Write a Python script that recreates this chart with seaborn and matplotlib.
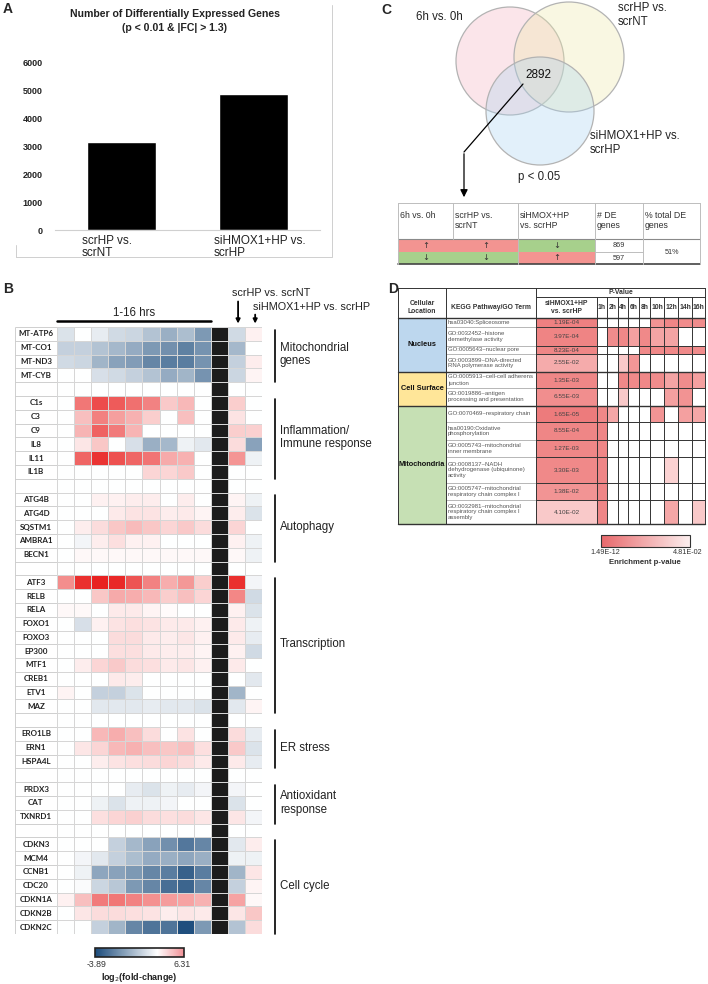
import numpy as np
import pandas as pd
import matplotlib
matplotlib.use("Agg")
import matplotlib.pyplot as plt
import seaborn as sns
from matplotlib.colors import LinearSegmentedColormap, Normalize, LogNorm, to_rgba
from matplotlib.patches import Circle, Rectangle
from matplotlib.cm import ScalarMappable

# ---------------- data ----------------
# panel A
de_categories = ["scrHP vs.\nscrNT", "siHMOX1+HP vs.\nscrHP"]
de_counts = [3150, 4900]

# panel B (9 time points 1-16 h, scrHP vs scrNT, siHMOX1+HP vs scrHP); "" = spacer row
genes = ["MT-ATP6", "MT-CO1", "MT-ND3", "MT-CYB", "",
         "C1s", "C3", "C9", "IL8", "IL11", "IL1B", "",
         "ATG4B", "ATG4D", "SQSTM1", "AMBRA1", "BECN1", "",
         "ATF3", "RELB", "RELA", "FOXO1", "FOXO3", "EP300", "MTF1", "CREB1", "ETV1", "MAZ", "",
         "ERO1LB", "ERN1", "HSPA4L", "",
         "PRDX3", "CAT", "TXNRD1", "",
         "CDKN3", "MCM4", "CCNB1", "CDC20", "CDKN1A", "CDKN2B", "CDKN2C"]
logfc = [
    [-0.6, 0.0, -0.4, -0.8, -0.9, -1.3, -1.7, -1.4, -2.2, -0.8, 0.4],
    [-1.0, -1.0, -1.3, -1.5, -1.8, -2.2, -2.4, -2.7, -2.3, -1.5, 0.0],
    [-0.8, -0.9, -1.6, -2.0, -2.1, -2.6, -2.8, -2.8, -2.3, -1.0, 0.5],
    [0.0, 0.0, -0.7, -0.8, -1.0, -1.3, -1.8, -1.6, -2.3, -0.9, 0.3],
    [0.0] * 11,
    [0.0, 3.8, 5.0, 4.6, 4.0, 3.5, 1.5, 2.0, 0.0, 1.4, 0.0],
    [0.0, 1.8, 3.6, 2.7, 2.2, 1.4, 0.0, 1.8, 0.0, 0.8, 0.0],
    [0.0, 2.1, 4.4, 3.7, 2.1, 0.0, 0.0, 0.0, 0.0, 1.4, 1.3],
    [0.0, 0.7, 1.6, 0.0, -0.7, -1.7, -1.5, -0.3, -0.5, 1.0, -2.0],
    [0.0, 4.3, 5.7, 4.9, 4.3, 3.9, 2.4, 2.2, 0.0, 3.0, -0.3],
    [0.0, 0.0, 0.0, 0.0, 0.0, 1.2, 1.2, 1.5, 0.0, 0.0, 0.0],
    [0.0] * 11,
    [0.0, 0.0, 0.4, 0.4, 0.5, 0.5, 0.0, 0.5, 0.0, 0.3, -0.3],
    [0.0, 0.0, 0.0, 0.6, 0.8, 0.8, 0.5, 0.6, 0.3, 0.5, -0.6],
    [0.0, 0.5, 1.0, 1.6, 1.9, 1.6, 1.2, 1.5, 1.0, 1.2, 0.0],
    [0.0, -0.2, 0.5, 0.9, 0.4, 0.4, 0.0, 0.0, 0.0, 0.4, -0.3],
    [0.0, 0.2, 0.2, 0.2, 0.2, 0.2, 0.2, 0.2, 0.2, 0.2, -0.3],
    [0.0] * 11,
    [3.2, 5.8, 6.2, 6.0, 4.8, 3.5, 2.3, 2.9, 1.4, 5.8, -0.2],
    [0.0, 0.0, 1.6, 2.4, 2.3, 2.0, 1.4, 1.8, 1.2, 3.4, -0.8],
    [0.2, 0.2, 0.0, 0.6, 0.6, 0.3, 0.1, 0.0, 0.0, 0.4, -0.6],
    [0.0, -0.7, 0.4, 0.8, 0.9, 0.8, 0.6, 0.6, 0.4, 0.6, -0.3],
    [0.0, 0.0, 0.0, 1.0, 1.0, 0.6, 0.5, 0.7, 0.4, 0.6, -0.4],
    [0.0, 0.0, 0.0, 0.9, 0.9, 0.6, 0.5, 0.5, 0.3, 0.4, -0.8],
    [0.0, 0.5, 1.2, 1.5, 1.0, 0.9, 0.6, 0.7, 0.4, 0.6, 0.0],
    [0.0, 0.0, 0.0, 0.6, 0.5, 0.0, 0.0, 0.0, 0.0, 0.0, -0.5],
    [0.3, 0.0, -1.0, -1.0, -0.6, 0.0, 0.0, 0.0, 0.0, -1.6, 0.0],
    [0.0, 0.0, -0.5, -0.5, -0.5, -0.4, -0.5, -0.5, -0.6, -0.5, 0.3],
    [0.0] * 11,
    [0.0, 0.0, 2.0, 2.3, 1.8, 1.0, 0.0, 0.8, 0.0, 1.0, -0.4],
    [0.0, 0.7, 1.2, 2.0, 2.2, 1.8, 1.6, 1.8, 0.9, 1.5, -0.6],
    [0.0, 0.0, 0.5, 0.8, 0.9, 1.0, 1.2, 1.0, 0.6, 0.6, -0.4],
    [0.0] * 11,
    [0.0, 0.0, 0.0, 0.0, -0.4, -0.6, -0.3, -0.4, -0.2, -0.2, 0.0],
    [0.0, 0.0, -0.3, -0.6, -0.3, -0.3, -0.2, 0.0, 0.0, -0.6, 0.0],
    [0.0, 0.0, 0.9, 1.2, 1.3, 1.0, 0.9, 1.0, 0.7, 0.7, -0.2],
    [0.0] * 11,
    [0.0, 0.0, 0.0, -1.0, -1.5, -2.0, -2.4, -2.9, -2.6, -0.5, 0.5],
    [0.0, -0.2, -0.5, -1.0, -1.4, -1.8, -1.7, -1.9, -1.7, -0.3, -0.3],
    [0.0, -0.3, -1.9, -2.0, -2.2, -2.6, -2.8, -3.4, -2.8, -1.6, 0.7],
    [0.0, -0.1, -0.9, -1.2, -2.2, -2.6, -3.1, -3.3, -2.6, -1.0, 0.3],
    [0.4, 1.8, 3.7, 3.8, 3.5, 3.1, 2.8, 2.6, 2.2, 2.6, 0.2],
    [0.0, 0.7, 1.0, 1.0, 0.9, 0.8, 0.5, 0.7, 0.6, 0.7, 1.6],
    [0.0, 0.0, -1.0, -1.6, -2.6, -3.0, -3.0, -3.8, -2.2, -1.3, 1.0],
]
fc_min, fc_max = -3.89, 6.31
group_names = ["Mitochondrial\ngenes", "Inflammation/\nImmune response", "Autophagy",
               "Transcription", "ER stress", "Antioxidant\nresponse", "Cell cycle"]
group_sizes = [4, 6, 5, 10, 3, 3, 7]

# panel C
venn_labels = ["6h vs. 0h", "scrHP vs.\nscrNT", "siHMOX1+HP vs.\nscrHP"]
venn_overlap = 2892
c_headers = ["6h vs. 0h", "scrHP vs.\nscrNT", "siHMOX+HP\nvs. scrHP", "# DE\ngenes", "% total DE\ngenes"]
c_dirs = [["↑", "↑", "↓"], ["↓", "↓", "↑"]]
c_counts = [869, 597]
c_pct = "51%"

# panel D
d_locations = ["Nucleus", "Cell Surface", "Mitochondria"]
d_loc_sizes = [4, 2, 6]
d_terms = ["hsa03040:Spliceosome",
           "GO:0032452~histone\ndemethylase activity",
           "GO:0005643~nuclear pore",
           "GO:0003899~DNA-directed\nRNA polymerase activity",
           "GO:0005913~cell-cell adherens\njunction",
           "GO:0019886~antigen\nprocessing and presentation",
           "GO:0070469~respiratory chain",
           "hsa00190:Oxidative\nphosphorylation",
           "GO:0005743~mitochondrial\ninner membrane",
           "GO:0008137~NADH\ndehydrogenase (ubiquinone)\nactivity",
           "GO:0005747~mitochondrial\nrespiratory chain complex I",
           "GO:0032981~mitochondrial\nrespiratory chain complex I\nassembly"]
d_si_p = [1.19e-4, 3.97e-4, 8.23e-4, 2.55e-2, 1.35e-3, 6.55e-3,
          1.65e-5, 8.55e-4, 1.27e-3, 3.30e-3, 1.38e-2, 4.10e-2]
d_hours = ["1h", "2h", "4h", "6h", "8h", "10h", "12h", "14h", "16h"]
nan = np.nan
d_hour_p = [
    [nan, nan, nan, nan, nan, 1.4e-2, 1e-3, 5e-3, 5e-3],
    [nan, 5e-3, 2e-3, 2.0e-2, 3e-3, 2.2e-2, 2.2e-2, nan, nan],
    [nan, nan, nan, nan, 3e-3, 2e-3, 2e-3, 4e-3, 5e-3],
    [nan, nan, 4e-2, 1.5e-2, nan, nan, nan, nan, nan],
    [nan, nan, 3e-3, 3e-3, 2e-3, 5e-3, 2.2e-2, 5e-3, 2.0e-2],
    [nan, nan, 4e-2, nan, nan, nan, 2e-2, 1.2e-2, nan],
    [2e-3, 2.3e-2, nan, nan, nan, 1.3e-2, nan, 2.0e-2, 2.3e-2],
    [1e-3, nan, nan, nan, nan, nan, nan, nan, nan],
    [1e-3, nan, nan, nan, nan, nan, nan, nan, nan],
    [1e-3, nan, nan, nan, nan, nan, 4.6e-2, nan, nan],
    [1e-3, nan, nan, nan, nan, nan, nan, nan, nan],
    [1e-3, nan, nan, nan, nan, nan, 2.3e-2, nan, 4.0e-2],
]
p_min, p_max = 1.49e-12, 4.81e-2

# ---------------- style ----------------
sns.set_theme(style="white")
plt.rcParams["font.family"] = ["Liberation Sans", "DejaVu Sans"]

W, H = 708, 984
fig = plt.figure(figsize=(W / 100, H / 100), dpi=100)


def px_axes(x0, y0, x1, y1, **kw):
    return fig.add_axes([x0 / W, 1 - y1 / H, (x1 - x0) / W, (y1 - y0) / H], **kw)


# overlay in pixel coordinates for tables / venn / annotations
ov = px_axes(0, 0, W, H, zorder=5)
ov.set_xlim(0, W)
ov.set_ylim(H, 0)
ov.axis("off")
ov.patch.set_alpha(0)

for lab, (x, y) in zip("ABCD", [(3, 2), (3, 282), (381, 3), (388, 282)]):
    ov.text(x, y, lab, fontsize=10, fontweight="bold", va="top", ha="left")

# ---------------- panel A ----------------
axA = px_axes(55, 63, 320, 230)
sns.barplot(x=list(range(len(de_counts))), y=de_counts, ax=axA, color="black",
            width=0.52, saturation=1, errorbar=None)
axA.set_xlim(-0.5, 1.5)
axA.set_ylim(0, 6000)
axA.set_yticks(range(0, 6001, 1000))
axA.set_yticklabels([str(v) for v in range(0, 6001, 1000)], fontsize=6.5, fontweight="bold", color="#222")
axA.tick_params(axis="y", length=0, pad=9)
axA.set_xticks([])
for s in ["top", "right", "left"]:
    axA.spines[s].set_visible(False)
axA.spines["bottom"].set_color("#d0d0d0")
axA.spines["bottom"].set_linewidth(0.8)
for i, lab in enumerate(de_categories):
    axA.text(i - 0.30, -170, lab, ha="left", va="top", fontsize=8.5, color="#222",
             linespacing=1.05, clip_on=False)
ov.text(175, 9, "Number of Differentially Expressed Genes\n(p < 0.01 & |FC| > 1.3)",
        ha="center", va="top", fontsize=7.6, fontweight="bold", linespacing=1.45, color="#222")
ov.plot([16, 332, 332], [257, 257, 5], color="#cfcfcf", lw=0.7)
ov.plot([16, 16], [245, 257], color="#cfcfcf", lw=0.7)

# ---------------- panel B ----------------
n_rows = len(genes)
mat = np.array(logfc, dtype=float)
mat = np.insert(mat, 9, np.nan, axis=1)  # black separator column
df_b = pd.DataFrame(mat, index=genes)
zero_pos = -fc_min / (fc_max - fc_min)
cmap_b = LinearSegmentedColormap.from_list(
    "fc", [(0, "#1b4b7b"), (zero_pos, "#ffffff"), (1, "#e81f1e")])

axB = px_axes(57, 327, 262, 934)
axB.set_facecolor("#1c1c1c")
sns.heatmap(df_b, ax=axB, cmap=cmap_b, vmin=fc_min, vmax=fc_max, cbar=False,
            linewidths=0.6, linecolor="#d6d6d6", xticklabels=False, yticklabels=False)
axB.set_ylabel("")
axB.set_xlabel("")

axL = px_axes(15, 327, 57, 934)
axL.set_xlim(0, 1)
axL.set_ylim(n_rows, 0)
axL.axis("off")
axL.hlines(range(n_rows + 1), 0, 1, color="#c8c8c8", lw=0.6)
axL.vlines([0, 1], 0, n_rows, color="#c8c8c8", lw=0.6)
for i, g in enumerate(genes):
    axL.text(0.5, i + 0.5, g, ha="center", va="center", fontsize=5.8,
             fontweight="bold", family=["Lato", "DejaVu Sans"], color="#222")

start = 0
for name, size in zip(group_names, group_sizes):
    axB.plot([12.78, 12.78], [start + 0.2, start + size], color="black", lw=1.2, clip_on=False)
    axB.text(13.05, start + size / 2, name, ha="left", va="center", fontsize=8.3,
             linespacing=1.15, color="#222", clip_on=False)
    start += size + 1

axB.plot([0, 9], [-0.43, -0.43], color="black", lw=1.8, clip_on=False)
axB.text(4.5, -1.05, "1-16 hrs", ha="center", va="center", fontsize=8.3, color="#222")
axB.text(10.25, -2.45, "scrHP vs. scrNT", ha="left", va="center", fontsize=7.8, color="#222")
axB.text(11.45, -1.45, "siHMOX1+HP vs. scrHP", ha="left", va="center", fontsize=7.8, color="#222")
axB.annotate("", xy=(10.6, -0.05), xytext=(10.6, -2.05),
             arrowprops=dict(arrowstyle="-|>", color="black", lw=1.3, mutation_scale=6),
             annotation_clip=False)
axB.annotate("", xy=(11.6, -0.05), xytext=(11.6, -1.1),
             arrowprops=dict(arrowstyle="-|>", color="black", lw=1.3, mutation_scale=6),
             annotation_clip=False)

cmap_bar_b = LinearSegmentedColormap.from_list(
    "fcbar", [(0, "#1b4b7b"), (0.7, "#ffffff"), (1, "#f09096")])
caxB = px_axes(95, 948, 184, 957)
cbB = fig.colorbar(ScalarMappable(Normalize(fc_min, fc_max), cmap_bar_b), cax=caxB,
                   orientation="horizontal", ticks=[])
cbB.outline.set_linewidth(1.2)
cbB.outline.set_edgecolor("#222")
ov.text(97, 960, f"{fc_min:.2f}", ha="center", va="top", fontsize=6.3, color="#333")
ov.text(182, 960, f"{fc_max:.2f}", ha="center", va="top", fontsize=6.3, color="#333")
ov.text(139, 971, "log$_2$(fold-change)", ha="center", va="top", fontsize=6.5,
        fontweight="bold", color="#222")

# ---------------- panel C ----------------
circles = [((510, 61), 54, "#f4b3c2"), ((569, 57), 55, "#ede9a8"), ((540, 111), 54, "#a9d3f0")]
for (cx, cy), r, col in circles:
    ov.add_patch(Circle((cx, cy), r, facecolor=to_rgba(col, 0.33), edgecolor="#b3b3b3", lw=0.9))
ov.text(416, 17, venn_labels[0], ha="left", va="center", fontsize=8.3, color="#222")
ov.text(618, 15, venn_labels[1], ha="left", va="center", fontsize=8.3, color="#222", linespacing=1.2)
ov.text(590, 143, venn_labels[2], ha="left", va="center", fontsize=8.3, color="#222", linespacing=1.2)
ov.text(538, 75, str(venn_overlap), ha="center", va="center", fontsize=8.5, color="#111")
ov.text(518, 177, "p < 0.05", ha="left", va="center", fontsize=8.3, color="#222")
ov.plot([523, 464], [84, 152], color="black", lw=0.9)
ov.annotate("", xy=(464, 200), xytext=(464, 151),
            arrowprops=dict(arrowstyle="-|>", color="black", lw=0.9, mutation_scale=11))

cx_edges = [398, 453, 518, 595, 643, 700]
cy_edges = [203, 239, 252, 264]
red_c, green_c = "#f39491", "#a7d08c"
for r, dirs in enumerate(c_dirs):
    y0, y1 = cy_edges[r + 1], cy_edges[r + 2]
    for k in range(3):
        col = red_c if dirs[k] == "↑" else green_c
        ov.add_patch(Rectangle((cx_edges[k], y0), cx_edges[k + 1] - cx_edges[k], y1 - y0,
                               facecolor=col, edgecolor="none"))
        ov.text((cx_edges[k] + cx_edges[k + 1]) / 2, (y0 + y1) / 2, dirs[k], ha="center",
                va="center", fontsize=6, family=["DejaVu Sans"], color="#333")
    ov.text((cx_edges[3] + cx_edges[4]) / 2, (y0 + y1) / 2, str(c_counts[r]), ha="center",
            va="center", fontsize=5.2, color="#333")
ov.text((cx_edges[4] + cx_edges[5]) / 2, cy_edges[2], c_pct, ha="center", va="center",
        fontsize=5.2, color="#333")
for k, hdr in enumerate(c_headers):
    ov.text(cx_edges[k] + 2, 211, hdr, ha="left", va="top", fontsize=6.3, color="#333",
            linespacing=1.15)
gl = dict(color="#bdbdbd", lw=0.7)
ov.plot([398, 700], [203, 203], **gl)
ov.plot([398, 700], [239, 239], color="#8a8a8a", lw=0.8)
ov.plot([595, 643], [252, 252], **gl)
ov.plot([398, 700], [264, 264], color="#444", lw=1.2)
for x in [398, 518, 595, 643, 700]:
    ov.plot([x, x], [203, 264], **gl)
ov.plot([453, 453], [203, 239], **gl)

# ---------------- panel D ----------------
d_x = [398, 446, 536, 597, 607, 618, 628, 639, 650, 664, 678, 692, 705]
d_y = [318, 327, 346, 354, 372, 388, 406, 422, 440, 457, 483, 500, 524]
hdr_top, hdr_mid = 288, 297

cmap_d = LinearSegmentedColormap.from_list(
    "pv", [(0, "#e45c5e"), (0.67, "#ed7b7c"), (0.9, "#f08a8a"), (0.95, "#f29494"),
           (0.975, "#f5a9a9"), (0.995, "#f9c6c6"), (1, "#fbd2d2")])
norm_d = LogNorm(p_min, p_max)
cvals = np.column_stack([np.array(d_si_p), np.array(d_hour_p, dtype=float)])
ov.pcolormesh(d_x[2:], d_y, np.ma.masked_invalid(cvals), cmap=cmap_d, norm=norm_d, zorder=1)

loc_colors = ["#bdd7ee", "#ffe699", "#c6e0b4"]
r0 = 0
for name, size, col in zip(d_locations, d_loc_sizes, loc_colors):
    ya, yb = d_y[r0], d_y[r0 + size]
    ov.add_patch(Rectangle((d_x[0], ya), d_x[1] - d_x[0], yb - ya, facecolor=col,
                           edgecolor="none", zorder=1))
    ov.text((d_x[0] + d_x[1]) / 2, (ya + yb) / 2, name, ha="center", va="center",
            fontsize=5.3, fontweight="bold", color="#111")
    r0 += size

for i, term in enumerate(d_terms):
    ym = (d_y[i] + d_y[i + 1]) / 2
    ov.text(d_x[1] + 2, ym, term, ha="left", va="center", fontsize=4.3, color="#555",
            linespacing=1.25)
    ov.text((d_x[2] + d_x[3]) / 2, ym, f"{d_si_p[i]:.2E}", ha="center", va="center",
            fontsize=4.6, color="#444")

hb = dict(fontsize=4.9, fontweight="bold", color="#333", va="center", ha="center")
ov.text((d_x[2] + d_x[-1]) / 2, (hdr_top + hdr_mid) / 2 + 0.5, "P-Value", **hb)
ov.text((d_x[0] + d_x[1]) / 2, (hdr_mid + d_y[0]) / 2, "Cellular\nLocation", linespacing=1.2, **hb)
ov.text((d_x[1] + d_x[2]) / 2, (hdr_mid + d_y[0]) / 2, "KEGG Pathway/GO Term", **hb)
ov.text((d_x[2] + d_x[3]) / 2, (hdr_mid + d_y[0]) / 2, "siHMOX1+HP\nvs. scrHP", linespacing=1.2, **hb)
for k, hr in enumerate(d_hours):
    ov.text((d_x[3 + k] + d_x[4 + k]) / 2, (hdr_mid + d_y[0]) / 2, hr, **hb)

dk = dict(color="#333", lw=0.7, zorder=3)
ov.plot([d_x[0], d_x[-1]], [hdr_top, hdr_top], **dk)
ov.plot([d_x[2], d_x[-1]], [hdr_mid, hdr_mid], **dk)
ov.plot([d_x[0], d_x[-1]], [d_y[0], d_y[0]], color="#333", lw=1.0, zorder=3)
ov.plot([d_x[0], d_x[-1]], [d_y[-1], d_y[-1]], color="#333", lw=1.0, zorder=3)
for yy in d_y[1:-1]:
    ov.plot([d_x[1], d_x[2]], [yy, yy], color="#9a9a9a", lw=0.5, zorder=3)
    ov.plot([d_x[2], d_x[-1]], [yy, yy], **dk)
r0 = 0
for size in d_loc_sizes[:-1]:
    r0 += size
    ov.plot([d_x[0], d_x[-1]], [d_y[r0], d_y[r0]], color="#333", lw=1.0, zorder=3)
for x in [d_x[0], d_x[1], d_x[2], d_x[-1]]:
    ov.plot([x, x], [hdr_top, d_y[-1]], **dk)
for x in d_x[3:-1]:
    ov.plot([x, x], [hdr_mid, d_y[-1]], **dk)

cmap_bar_d = LinearSegmentedColormap.from_list("pvbar", ["#e8686b", "#fbeeee"])
caxD = px_axes(601, 535, 690, 547)
cbD = fig.colorbar(ScalarMappable(Normalize(0, 1), cmap_bar_d), cax=caxD,
                   orientation="horizontal", ticks=[])
cbD.outline.set_linewidth(0.8)
cbD.outline.set_edgecolor("#333")
ov.text(605, 553, f"{p_min:.2E}", ha="center", va="center", fontsize=5.2, color="#333")
ov.text(688, 553, f"{p_max:.2E}", ha="center", va="center", fontsize=5.2, color="#333")
ov.text(645, 563, "Enrichment p-value", ha="center", va="center", fontsize=5.6,
        fontweight="bold", color="#333")

fig.savefig("out.png", dpi=100)
